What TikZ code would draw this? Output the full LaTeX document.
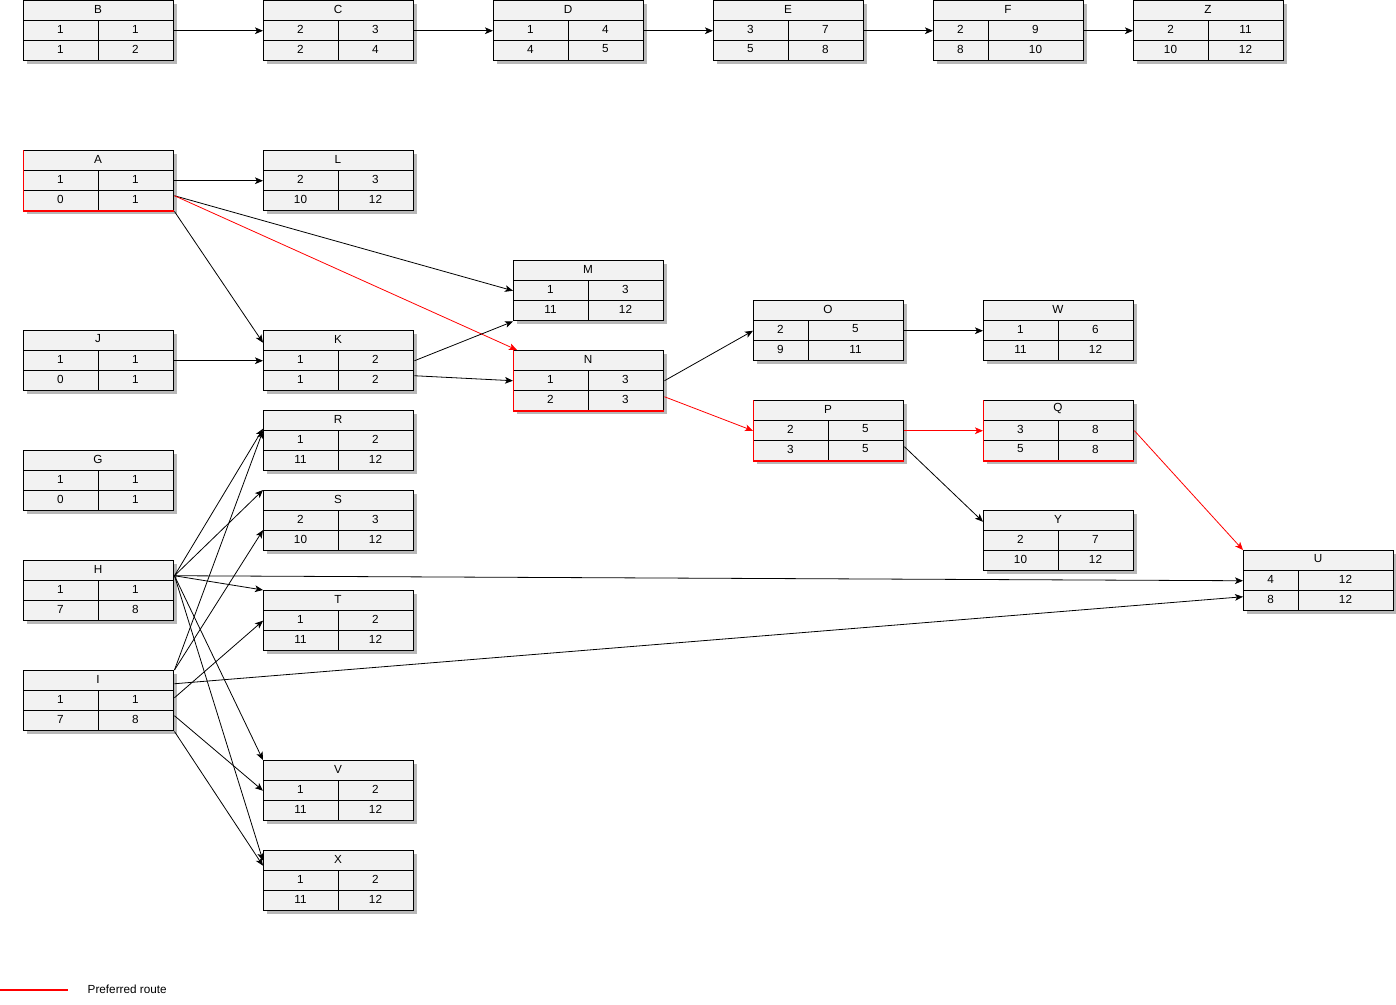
\documentclass[tikz,border=0pt]{standalone}
\usepackage{fontspec}
\setmainfont{Liberation Sans}
\usetikzlibrary{arrows.meta,shadows}

\begin{document}
\begin{tikzpicture}[
    x=0.75pt, y=-0.75pt,
    font=\fontsize{8.8}{10}\selectfont,
    frame/.style={draw, line width=1.1pt, fill=black!5, anchor=north west, inner sep=0pt,
        minimum width=112.5pt, minimum height=45pt,
        drop shadow={shadow xshift=2.6pt, shadow yshift=-2.6pt, fill=black!28, opacity=1}},
    grid/.style={line width=0.7pt},
    arrow/.style={-{Stealth[length=6pt,width=5pt,inset=1.5pt]}, line width=0.6pt},
    route/.style={arrow, red},
    crit/.style={red, line width=#1},
    crit/.default=1.5pt
]
\useasboundingbox (0,0) rectangle (1396,1004);

% task tables: name / x / y / split / four values
\foreach \n/\x/\y/\s/\a/\b/\c/\d in {
    B/23/0/75/1/1/1/2, C/263/0/75/2/3/2/4, D/493/0/75/1/4/4/5,
    E/713/0/75/3/7/5/8, F/933/0/55/2/9/8/10, Z/1133/0/75/2/11/10/12,
    A/23/150/75/1/1/0/1, L/263/150/75/2/3/10/12, M/513/260/75/1/3/11/12,
    J/23/330/75/1/1/0/1, K/263/330/75/1/2/1/2, N/513/350/75/1/3/2/3,
    O/753/300/55/2/5/9/11, W/983/300/75/1/6/11/12, P/753/400/75/2/5/3/5,
    Q/983/400/75/3/8/5/8, R/263/410/75/1/2/11/12, G/23/450/75/1/1/0/1,
    S/263/490/75/2/3/10/12, Y/983/510/75/2/7/10/12, U/1243/550/55/4/12/8/12,
    H/23/560/75/1/1/7/8, T/263/590/75/1/2/11/12, I/23/670/75/1/1/7/8,
    V/263/760/75/1/2/11/12, X/263/850/75/1/2/11/12}
{
    \node[frame] (\n) at (\x,\y) {};
    \draw[grid] (\x,\y+20) -- +(150,0) (\x,\y+40) -- +(150,0) (\x+\s,\y+20) -- (\x+\s,\y+60);
    \node (\n-h) at (\x+75,\y+9) {\n};
    \node (\n-a) at (\x+\s/2,\y+29) {\a};
    \node (\n-b) at (\x+75+\s/2,\y+29) {\b};
    \node (\n-c) at (\x+\s/2,\y+49) {\c};
    \node (\n-d) at (\x+75+\s/2,\y+49) {\d};
}

% preferred route marks
\foreach \n in {A,N,P,Q} {
    \draw[crit=0.5pt] (\n.north west) -- (\n.south west);
    \draw[crit] (\n.south west) -- (\n.south east);
}

% top chain
\draw[arrow] (B.east) -- (C.west);
\draw[arrow] (C.east) -- (D.west);
\draw[arrow] (D.east) -- (E.west);
\draw[arrow] (E.east) -- (F.west);
\draw[arrow] (F.east) -- (Z.west);

% main network
\draw[arrow] (A.east) -- (L.west);
\draw[arrow] ([yshift=-11.25pt]A.east) -- (M.west);
\draw[route] ([yshift=-11.25pt]A.east) -- ([xshift=3pt]N.north west);
\draw[arrow] (A.south east) -- ([yshift=13.5pt]K.west);
\draw[arrow] (J.east) -- (K.west);
\draw[arrow] (K.east) -- (M.south west);
\draw[arrow] ([yshift=-11.25pt]K.east) -- (N.west);
\draw[arrow] (N.east) -- (O.west);
\draw[route] ([yshift=-12pt]N.east) -- (P.west);
\draw[arrow] (O.east) -- (W.west);
\draw[route] (P.east) -- (Q.west);
\draw[arrow] ([yshift=-12pt]P.east) -- ([yshift=14.25pt]Y.west);
\draw[route] (Q.east) -- (U.north west);

% fan out of H and I
\coordinate (H-out) at ([yshift=11.25pt]H.east);
\draw[arrow] (H-out) -- ([yshift=9pt]R.west);
\draw[arrow] (H-out) -- (S.north west);
\draw[arrow] (H-out) -- (T.north west);
\draw[arrow] (H-out) -- (V.north west);
\draw[arrow] (H-out) -- ([yshift=15pt]X.west);
\draw[arrow] (H-out) -- (U.west);
\draw[arrow] (I.north east) -- ([yshift=7.5pt]R.west);
\draw[arrow] (I.north east) -- (S-c.north -| S.west);
\draw[arrow] ([yshift=12.75pt]I.east) -- ([yshift=-12pt]U.west);
\draw[arrow] ([yshift=2.25pt]I.east) -- (T.west);
\draw[arrow] ([yshift=-11.25pt]I.east) -- (V.west);
\draw[arrow] (I.south east) -- ([yshift=11.25pt]X.west);

% legend
\coordinate (lg-a) at (0,990);
\coordinate (lg-b) at (68,990);
\draw[red, line width=0.8pt] (lg-a) -- (lg-b);
\node[anchor=west] (legend) at (83,989) {Preferred route};
\end{tikzpicture}
\end{document}
